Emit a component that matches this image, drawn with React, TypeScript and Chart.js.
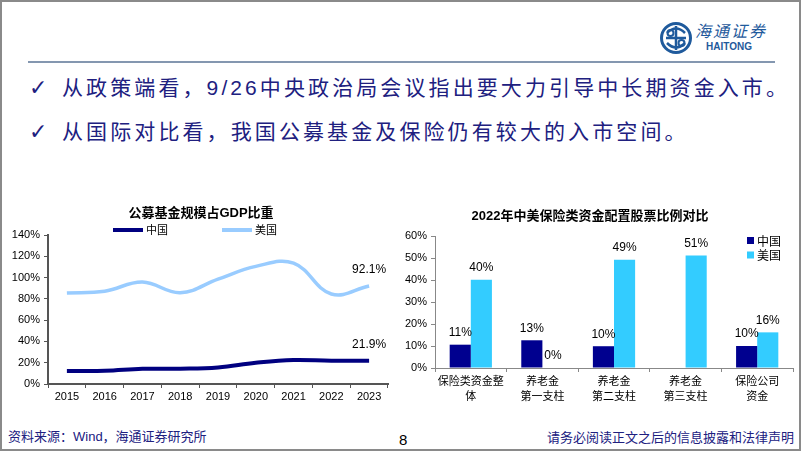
import React, { useEffect, useRef } from "react";
import { Chart, registerables } from "chart.js";
Chart.register(...registerables);

// ---------- data ----------
const years = ["2015", "2016", "2017", "2018", "2019", "2020", "2021", "2022", "2023"];
const chinaFundToGdp = [12.3, 12.4, 14.3, 14.4, 15.6, 20.0, 22.6, 21.8, 21.9];
const usFundToGdp = [85.6, 87.2, 95.8, 85.8, 98.5, 110.5, 113.5, 84.6, 92.1];
const seriesNames = ["中国", "美国"];

const insuranceCategories = [
  ["保险类资金整", "体"],
  ["养老金", "第一支柱"],
  ["养老金", "第二支柱"],
  ["养老金", "第三支柱"],
  ["保险公司", "资金"],
];
const chinaEquityShare: (number | null)[] = [10.6, 12.6, 9.9, null, 10.0];
const usEquityShare: (number | null)[] = [40.1, 0, 49.2, 51.1, 16.2];

const leftTitle = "公募基金规模占GDP比重";
const rightTitle = "2022年中美保险类资金配置股票比例对比";

const bullet1 = "从政策端看，9/26中央政治局会议指出要大力引导中长期资金入市。";
const bullet2 = "从国际对比看，我国公募基金及保险仍有较大的入市空间。";
const sourceText = "资料来源：Wind，海通证券研究所";
const pageNo = "8";
const disclaimer = "请务必阅读正文之后的信息披露和法律声明";

// ---------- styles ----------
const NAVY = "#000080";
const LIGHT = "#99CCFF";
const BAR_CN = "#00008F";
const BAR_US = "#33CCFF";
const TEXT_BLUE = "#20207f";
const SANS = '"Liberation Sans", "Noto Sans CJK SC", sans-serif';
const CJK = '"Noto Sans CJK SC", "Liberation Sans", sans-serif';

function LineChart() {
  const ref = useRef<HTMLCanvasElement | null>(null);
  useEffect(() => {
    if (!ref.current) return;
    const overlay = {
      id: "leftOverlay",
      afterDatasetsDraw(chart: any) {
        const ctx = chart.ctx;
        ctx.save();
        ctx.fillStyle = "#000";
        ctx.textAlign = "center";
        ctx.textBaseline = "middle";
        ctx.font = `bold 13px ${SANS}`;
        ctx.fillText(leftTitle, 201, 18);
        const lx = [113, 222];
        chart.data.datasets.forEach((ds: any, i: number) => {
          ctx.strokeStyle = ds.borderColor;
          ctx.lineWidth = 4;
          ctx.beginPath();
          ctx.moveTo(lx[i], 35);
          ctx.lineTo(lx[i] + 30, 35);
          ctx.stroke();
          ctx.fillStyle = "#000";
          ctx.textAlign = "left";
          ctx.font = `11px ${CJK}`;
          ctx.fillText(ds.label, lx[i] + 33, 35);
        });
        ctx.font = `12px ${SANS}`;
        ctx.textAlign = "center";
        chart.data.datasets.forEach((ds: any, i: number) => {
          const meta = chart.getDatasetMeta(i);
          const last = ds.data.length - 1;
          const pt = meta.data[last];
          ctx.fillStyle = "#000";
          ctx.fillText(ds.data[last].toFixed(1) + "%", pt.x, pt.y - 16);
        });
        ctx.restore();
      },
    };
    const chart = new Chart(ref.current, {
      type: "line",
      data: {
        labels: years,
        datasets: [
          {
            label: seriesNames[0],
            data: chinaFundToGdp,
            borderColor: NAVY,
            backgroundColor: NAVY,
            borderWidth: 4,
            tension: 0.4,
            pointRadius: 0,
          },
          {
            label: seriesNames[1],
            data: usFundToGdp,
            borderColor: LIGHT,
            backgroundColor: LIGHT,
            borderWidth: 3.5,
            tension: 0.4,
            pointRadius: 0,
          },
        ],
      },
      options: {
        animation: false,
        responsive: false,
        layout: { padding: { top: 40, right: 12, left: 0, bottom: 0 } },
        plugins: { legend: { display: false }, title: { display: false }, tooltip: { enabled: false } },
        scales: {
          x: {
            offset: true,
            grid: { offset: true, drawOnChartArea: false, drawTicks: true, tickLength: 4, color: "#555" },
            border: { display: true, color: "#555", width: 2 },
            ticks: { color: "#000", font: { family: SANS, size: 11 }, padding: 2, maxRotation: 0 },
            afterFit: (s: any) => {
              s.height = 26;
            },
          },
          y: {
            min: 0,
            max: 140,
            ticks: {
              stepSize: 20,
              color: "#000",
              font: { family: SANS, size: 11 },
              padding: 4,
              callback: (v: any) => v + "%",
            },
            grid: { drawOnChartArea: false, drawTicks: true, tickLength: 4, color: "#555" },
            border: { display: true, color: "#555", width: 2 },
            afterFit: (s: any) => {
              s.width = 48;
            },
          },
        },
      },
      plugins: [overlay],
    } as any);
    return () => chart.destroy();
  }, []);
  return <canvas ref={ref} width={400} height={215} style={{ position: "absolute", left: 0, top: 195 }} />;
}

function BarChart() {
  const ref = useRef<HTMLCanvasElement | null>(null);
  useEffect(() => {
    if (!ref.current) return;
    const overlay = {
      id: "rightOverlay",
      afterDatasetsDraw(chart: any) {
        const ctx = chart.ctx;
        ctx.save();
        ctx.fillStyle = "#000";
        ctx.textAlign = "center";
        ctx.textBaseline = "middle";
        ctx.font = `bold 13px ${SANS}`;
        ctx.fillText(rightTitle, 190, 21);
        chart.data.datasets.forEach((ds: any, i: number) => {
          ctx.fillStyle = ds.backgroundColor;
          ctx.fillRect(347, 42 + i * 14.5, 7, 7);
          ctx.fillStyle = "#000";
          ctx.textAlign = "left";
          ctx.font = `12px ${CJK}`;
          ctx.fillText(ds.label, 357, 46 + i * 14.5);
        });
        ctx.font = `12px ${SANS}`;
        ctx.textAlign = "center";
        chart.data.datasets.forEach((ds: any, i: number) => {
          const meta = chart.getDatasetMeta(i);
          ds.data.forEach((v: number | null, j: number) => {
            if (v === null || v === undefined) return;
            const el = meta.data[j];
            ctx.fillStyle = "#000";
            ctx.fillText(Math.round(v) + "%", el.x, el.y - 12);
          });
        });
        ctx.restore();
      },
    };
    const chart = new Chart(ref.current, {
      type: "bar",
      data: {
        labels: insuranceCategories,
        datasets: [
          { label: seriesNames[0], data: chinaEquityShare, backgroundColor: BAR_CN },
          { label: seriesNames[1], data: usEquityShare, backgroundColor: BAR_US },
        ],
      },
      options: {
        animation: false,
        responsive: false,
        datasets: { bar: { categoryPercentage: 0.59, barPercentage: 1 } },
        layout: { padding: { top: 41, right: 9, left: 0, bottom: 0 } },
        plugins: { legend: { display: false }, title: { display: false }, tooltip: { enabled: false } },
        scales: {
          x: {
            grid: { offset: true, drawOnChartArea: false, drawTicks: true, tickLength: 4, color: "#888" },
            border: { display: true, color: "#888", width: 1 },
            ticks: {
              color: "#000",
              font: { family: CJK, size: 11, lineHeight: 1.36 },
              padding: 1,
              maxRotation: 0,
              autoSkip: false,
            },
            afterFit: (s: any) => {
              s.height = 42;
            },
          },
          y: {
            min: 0,
            max: 60,
            ticks: {
              stepSize: 10,
              color: "#000",
              font: { family: SANS, size: 11 },
              padding: 4,
              callback: (v: any) => v + "%",
            },
            grid: { drawOnChartArea: false, drawTicks: true, tickLength: 4, color: "#888" },
            border: { display: true, color: "#888", width: 1 },
            afterFit: (s: any) => {
              s.width = 35;
            },
          },
        },
      },
      plugins: [overlay],
    } as any);
    return () => chart.destroy();
  }, []);
  return <canvas ref={ref} width={402} height={215} style={{ position: "absolute", left: 400, top: 195 }} />;
}

function Logo() {
  return (
    <div style={{ position: "absolute", left: 658, top: 20, width: 120, height: 36 }}>
      <svg width="36" height="36" viewBox="0 0 36 36" style={{ position: "absolute", left: 0, top: 0 }}>
        <circle cx="18" cy="18" r="14.5" fill="none" stroke="#1f5a9c" strokeWidth="3" />
        <path d="M9 13 Q18 4 27 13" fill="none" stroke="#1f5a9c" strokeWidth="2.5" />
        <path d="M9 23 Q18 32 27 23" fill="none" stroke="#1f5a9c" strokeWidth="2.5" />
        <path d="M18 6 L18 30 M8 18 L28 18" stroke="#1f5a9c" strokeWidth="2.5" />
        <circle cx="12.5" cy="13" r="3" fill="none" stroke="#1f5a9c" strokeWidth="2" />
        <circle cx="23.5" cy="23" r="3" fill="none" stroke="#1f5a9c" strokeWidth="2" />
      </svg>
      <div
        style={{
          position: "absolute",
          left: 37,
          top: 1,
          fontFamily: CJK,
          fontStyle: "italic",
          fontSize: 16,
          lineHeight: "18px",
          color: "#1f5a9c",
          letterSpacing: 2,
          whiteSpace: "nowrap",
        }}
      >
        海通证券
      </div>
      <div
        style={{
          position: "absolute",
          left: 48,
          top: 21,
          fontFamily: SANS,
          fontWeight: "bold",
          fontSize: 10,
          lineHeight: "12px",
          color: "#1f5a9c",
          whiteSpace: "nowrap",
        }}
      >
        HAITONG
      </div>
    </div>
  );
}

function Bullet({ text, top }: { text: string; top: number }) {
  return (
    <div style={{ position: "absolute", left: 0, top, height: 30, width: 802 }}>
      <span
        style={{
          position: "absolute",
          left: 29,
          top: 0,
          fontFamily: '"DejaVu Sans", sans-serif',
          fontSize: 22,
          fontWeight: "bold",
          lineHeight: "30px",
          color: TEXT_BLUE,
        }}
      >
        ✓
      </span>
      <span
        style={{
          position: "absolute",
          left: 62,
          top: 0,
          fontFamily: SANS,
          fontSize: 21,
          lineHeight: "30px",
          letterSpacing: 3.1,
          color: TEXT_BLUE,
          whiteSpace: "nowrap",
        }}
      >
        {text}
      </span>
    </div>
  );
}

export default function App() {
  useEffect(() => {
    document.body.style.margin = "0";
  }, []);
  return (
    <div style={{ position: "relative", width: 802, height: 452, background: "#fff", overflow: "hidden" }}>
      <div
        style={{
          position: "absolute",
          left: 0,
          top: 0,
          width: 801,
          height: 451,
          border: "2px solid #8a8a8a",
          boxSizing: "border-box",
        }}
      />
      <Logo />
      <div style={{ position: "absolute", left: 28, top: 61, width: 747, height: 1.5, background: "#8497b0" }} />
      <Bullet text={bullet1} top={73} />
      <Bullet text={bullet2} top={117} />
      <LineChart />
      <BarChart />
      <div
        style={{
          position: "absolute",
          left: 8,
          top: 428,
          fontFamily: SANS,
          fontSize: 13,
          lineHeight: "18px",
          color: TEXT_BLUE,
          whiteSpace: "nowrap",
        }}
      >
        {sourceText}
      </div>
      <div
        style={{
          position: "absolute",
          left: 399,
          top: 431,
          fontFamily: SANS,
          fontSize: 15,
          lineHeight: "18px",
          color: "#000",
        }}
      >
        {pageNo}
      </div>
      <div
        style={{
          position: "absolute",
          right: 8,
          top: 428,
          fontFamily: CJK,
          fontSize: 13,
          lineHeight: "18px",
          color: TEXT_BLUE,
          whiteSpace: "nowrap",
        }}
      >
        {disclaimer}
      </div>
    </div>
  );
}
